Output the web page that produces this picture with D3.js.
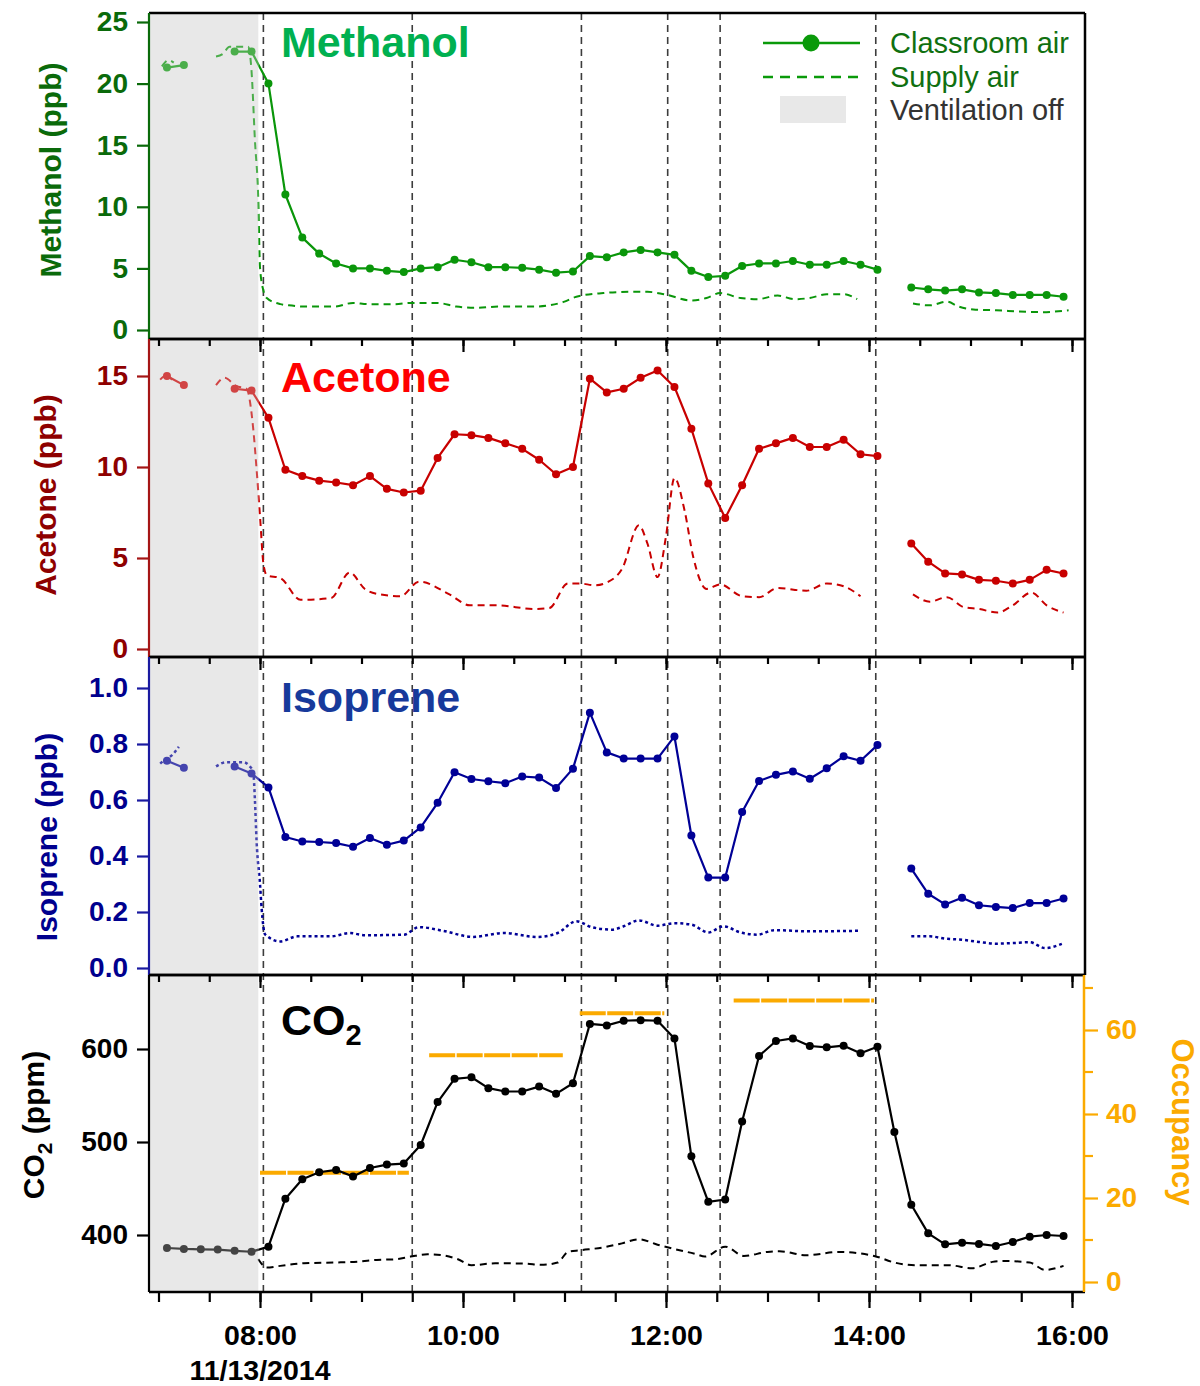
<!DOCTYPE html>
<html>
<head>
<meta charset="utf-8">
<script src="https://cdn.jsdelivr.net/npm/d3@7"></script>
<style>
  body { margin: 0; background: #fff; }
  svg text { font-family: "Liberation Sans", Arial, sans-serif; }
</style>
</head>
<body>
<svg id="chart" width="1200" height="1386"></svg>
<script>
// classroom air sampled every 10 min (null = no data)
const roomTimes = ["07:05","07:15","07:25","07:35","07:45","07:55",
  "08:05","08:15","08:25","08:35","08:45","08:55","09:05","09:15","09:25","09:35","09:45","09:55",
  "10:05","10:15","10:25","10:35","10:45","10:55","11:05","11:15","11:25","11:35","11:45","11:55",
  "12:05","12:15","12:25","12:35","12:45","12:55","13:05","13:15","13:25","13:35","13:45","13:55",
  "14:05","14:15","14:25","14:35","14:45","14:55","15:05","15:15","15:25","15:35","15:45","15:55"];

const methanolRoom = [21.3, 21.5, null, null, 22.6, 22.6,
  20.0, 11.0, 7.5, 6.2, 5.4, 5.0, 5.0, 4.8, 4.7, 5.0,
  5.1, 5.7, 5.5, 5.1, 5.1, 5.05, 4.9, 4.65, 4.75, 6.0,
  5.9, 6.3, 6.5, 6.3, 6.1, 4.8, 4.3, 4.4, 5.2, 5.4,
  5.4, 5.6, 5.3, 5.3, 5.6, 5.3, 4.9, null,
  3.45, 3.3, 3.2, 3.3, 3.05, 3.0, 2.85, 2.85, 2.85, 2.7];

const acetoneRoom = [15.0, 14.5, null, null, 14.3, 14.2,
  12.7, 9.85, 9.5, 9.25, 9.15, 9.0, 9.5, 8.8, 8.6, 8.7,
  10.5, 11.8, 11.75, 11.6, 11.3, 11.0, 10.4, 9.6, 10.0, 14.85,
  14.1, 14.3, 14.9, 15.3, 14.4, 12.1, 9.1, 7.2, 9.0, 11.0,
  11.3, 11.6, 11.1, 11.1, 11.5, 10.7, 10.6, null,
  5.8, 4.8, 4.15, 4.1, 3.8, 3.75, 3.6, 3.8, 4.35, 4.15];

const isopreneRoom = [0.74, 0.715, null, null, 0.72, 0.695,
  0.645, 0.468, 0.452, 0.45, 0.446, 0.433, 0.464, 0.44, 0.455, 0.502,
  0.59, 0.699, 0.675, 0.667, 0.66, 0.684, 0.68, 0.643, 0.712, 0.912,
  0.77, 0.748, 0.748, 0.748, 0.827, 0.473, 0.323, 0.323, 0.557, 0.668,
  0.69, 0.702, 0.676, 0.713, 0.756, 0.74, 0.796, null,
  0.355, 0.265, 0.227, 0.251, 0.224, 0.218, 0.214, 0.232, 0.232, 0.248];

const co2Room = [386, 385, 384.6, 384.3, 383, 382,
  387.5, 439, 460, 467.5, 470, 463, 472, 475.7, 476.8, 496.8,
  542.9, 567.9, 569.6, 557.9, 554.3, 554.3, 559.6, 551.8, 563.2, 627,
  625.4, 630.4, 631, 630.4, 611.4, 484.6, 435.7, 438.2, 522.1, 592.5,
  608.6, 611.4, 603.2, 601.8, 603.6, 595.4, 602.5, 510.7, 432.5, 401.8,
  390, 391.8, 390.4, 388.2, 392.5, 398.2, 400, 398.9];

// supply air [time, value], null value = gap
const methanolSupply = [["07:02",21.4],["07:06",21.9],["07:09",21.7],["07:20",null],
  ["07:34",22.2],["07:38",22.4],["07:42",23.0],["07:53",23.0],["07:55",21.0],["07:57",15.4],["07:59",10.5],
  ["08:00",5.1],["08:02",3.2],["08:04",2.6],["08:12",2.1],["08:17",2.0],["08:28",1.9],["08:44",1.9],
  ["08:55",2.2],["09:04",2.1],["09:20",2.1],["09:29",2.2],["09:45",2.2],["09:56",1.9],["10:08",1.8],
  ["10:21",1.9],["10:42",1.9],["10:51",2.0],["11:00",2.3],["11:07",2.7],["11:23",3.0],["11:39",3.1],
  ["11:49",3.1],["11:59",2.9],["12:15",2.4],["12:24",2.6],["12:32",3.0],["12:44",2.6],["12:54",2.5],
  ["13:06",2.8],["13:16",2.5],["13:25",2.6],["13:35",2.9],["13:45",2.9],["13:53",2.5],["14:10",null],
  ["14:26",2.15],["14:36",2.0],["14:46",2.3],["14:53",1.9],["15:03",1.65],["15:15",1.6],["15:29",1.5],
  ["15:42",1.45],["15:58",1.6]];

const acetoneSupply = [["07:01",14.8],["07:04",15.0],["07:08",14.8],["07:20",null],
  ["07:34",14.5],["07:39",14.9],["07:46",14.45],["07:52",14.3],["07:56",12.1],["07:58",9.85],
  ["08:00",7.3],["08:02",4.7],["08:04",4.05],["08:12",3.9],["08:24",2.7],["08:42",2.8],["08:53",4.2],
  ["09:02",3.3],["09:11",3.0],["09:23",2.9],["09:34",3.7],["09:52",3.0],["10:04",2.4],["10:20",2.4],
  ["10:42",2.2],["10:51",2.25],["11:02",3.6],["11:09",3.6],["11:18",3.5],["11:26",3.7],["11:34",4.4],
  ["11:44",6.8],["11:49",5.8],["11:55",3.95],["12:00",6.2],["12:05",9.4],["12:11",7.6],["12:16",5.1],
  ["12:24",3.3],["12:32",3.55],["12:45",2.9],["12:55",2.85],["13:06",3.35],["13:23",3.2],["13:35",3.6],
  ["13:45",3.45],["13:55",2.9],["14:10",null],
  ["14:26",3.0],["14:36",2.6],["14:46",2.85],["14:56",2.3],["15:05",2.2],["15:16",2.0],["15:25",2.4],
  ["15:36",3.1],["15:45",2.4],["15:55",2.0]];

const isopreneSupply = [["07:01",0.73],["07:04",0.745],["07:08",0.76],["07:12",0.79],["07:20",null],
  ["07:34",0.72],["07:40",0.735],["07:50",0.735],["07:54",0.72],["07:56",0.70],["07:57",0.60],
  ["07:58",0.45],["08:00",0.30],["08:01",0.21],["08:03",0.12],["08:12",0.095],["08:22",0.113],
  ["08:42",0.113],["08:53",0.125],["09:02",0.117],["09:25",0.119],["09:34",0.146],["09:48",0.133],
  ["10:06",0.111],["10:24",0.125],["10:44",0.111],["10:56",0.125],["11:07",0.167],["11:16",0.146],
  ["11:28",0.137],["11:35",0.149],["11:44",0.17],["11:55",0.151],["12:05",0.16],["12:15",0.155],
  ["12:25",0.127],["12:34",0.149],["12:44",0.127],["12:54",0.119],["13:04",0.135],["13:25",0.131],
  ["13:54",0.133],["14:10",null],
  ["14:25",0.113],["14:36",0.113],["14:45",0.105],["14:55",0.101],["15:05",0.093],["15:15",0.087],
  ["15:25",0.089],["15:35",0.092],["15:44",0.071],["15:54",0.086]];

const co2Supply = [["07:59",374],["08:04",365],["08:12",366.8],["08:26",369.6],["08:44",370.4],
  ["08:58",371.4],["09:09",373.2],["09:20",373.9],["09:29",376.8],["09:39",379.3],["09:48",378.2],
  ["09:57",373.9],["10:05",367.5],["10:19",369.6],["10:37",369.3],["10:46",367.9],["10:56",370.4],
  ["11:02",381.8],["11:09",383.6],["11:22",386.4],["11:34",391],["11:44",395.4],["11:55",389.6],
  ["12:04",385.4],["12:18",379.3],["12:23",376.8],["12:35",387.5],["12:46",377.5],["13:00",381.8],
  ["13:07",382.5],["13:23",378.2],["13:42",381.8],["14:03",377.5],["14:15",370.4],["14:27",367.5],
  ["14:47",367.5],["15:01",364.3],["15:13",371.1],["15:20",372.1],["15:35",370.4],["15:44",362.5],
  ["15:55",366.8]];

// occupancy periods [start, end, persons]
const occupancy = [["08:00","09:28",26],["09:40","10:59",54],["11:09","11:59",64],["12:40","14:03",67]];

const eventTimes = ["08:02","09:30","11:10","12:01","12:32","14:04"];
const ventOffEnd = "07:59";

const methanolTicks = [0, 5, 10, 15, 20, 25];
const acetoneTicks = [0, 5, 10, 15];
const isopreneTicks = [0, 0.2, 0.4, 0.6, 0.8, 1.0];
const co2Ticks = [400, 500, 600];
const occTicks = [0, 20, 40, 60];
const occMinorTicks = [10, 30, 50, 70];

// ---------------------------------------------------------------
const parseT = d3.timeParse("%Y-%m-%d %H:%M");
const T = s => parseT("2014-11-13 " + s);

const svg = d3.select("#chart");
const frameL = 149, frameR = 1085;
const x = d3.scaleTime().domain([T("07:00"), T("16:00")]).range([158.5, 1072]);
const xVent = x(T(ventOffEnd));

const defs = svg.append("defs");
defs.append("clipPath").attr("id", "clip-early")
  .append("rect").attr("x", 0).attr("y", 0).attr("width", xVent).attr("height", 1386);
defs.append("clipPath").attr("id", "clip-late")
  .append("rect").attr("x", xVent).attr("y", 0).attr("width", 1200 - xVent).attr("height", 1386);

const panels = [
  { top: 13, bottom: 339, y: d3.scaleLinear().domain([0, 25]).range([330, 22]),
    ticks: methanolTicks, fmt: d3.format("d"), axisColor: "#0A6A0A", labelColor: "#0A6A0A",
    color: "#0A960A", room: methanolRoom, supply: methanolSupply, dash: "7,5", sw: 2,
    title: "Methanol", titleColor: "#00B050", titleY: 57,
    label: "Methanol (ppb)", labelX: 61, labelY: 170 },
  { top: 339, bottom: 657, y: d3.scaleLinear().domain([0, 15]).range([649, 376]),
    ticks: acetoneTicks, fmt: d3.format("d"), axisColor: "#A51515", labelColor: "#8E0000",
    color: "#C80000", room: acetoneRoom, supply: acetoneSupply, dash: "7,5", sw: 2,
    title: "Acetone", titleColor: "#FF0000", titleY: 392,
    label: "Acetone (ppb)", labelX: 56, labelY: 495 },
  { top: 657, bottom: 975, y: d3.scaleLinear().domain([0, 1]).range([968, 688]),
    ticks: isopreneTicks, fmt: d3.format(".1f"), axisColor: "#1A1AA0", labelColor: "#00008E",
    color: "#000096", room: isopreneRoom, supply: isopreneSupply, dash: "3,3", sw: 2.5,
    title: "Isoprene", titleColor: "#173A9B", titleY: 712,
    label: "Isoprene (ppb)", labelX: 57, labelY: 837 },
  { top: 975, bottom: 1292, y: d3.scaleLinear().domain([400, 600]).range([1235, 1049]),
    ticks: co2Ticks, fmt: d3.format("d"), axisColor: "#000", labelColor: "#000",
    color: "#000", room: co2Room, supply: co2Supply, dash: "7,5", sw: 2,
    title: "CO", titleColor: "#000", titleY: 1035,
    label: "CO", labelX: 44, labelY: 1125 }
];

// gray "ventilation off" shading
panels.forEach(p => {
  svg.append("rect")
    .attr("x", frameL).attr("y", p.top)
    .attr("width", xVent - frameL).attr("height", p.bottom - p.top)
    .attr("fill", "#E8E8E8");
});

// event markers (dashed verticals through all panels)
svg.append("g").selectAll("line")
  .data(eventTimes)
  .join("line")
  .attr("x1", d => x(T(d))).attr("x2", d => x(T(d)))
  .attr("y1", panels[0].top).attr("y2", panels[3].bottom)
  .attr("stroke", "#3c3c3c").attr("stroke-width", 1.6)
  .attr("stroke-dasharray", "7,5");

// occupancy (right axis of CO2 panel)
const yOcc = d3.scaleLinear().domain([0, 60]).range([1282, 1030]);
svg.append("g").selectAll("line")
  .data(occupancy)
  .join("line")
  .attr("x1", d => x(T(d[0]))).attr("x2", d => x(T(d[1])))
  .attr("y1", d => yOcc(d[2])).attr("y2", d => yOcc(d[2]))
  .attr("stroke", "#FBAA00").attr("stroke-width", 4)
  .attr("stroke-dasharray", "26,1.5");

// data series
panels.forEach(p => {
  const roomData = roomTimes.map((t, i) => ({ t: T(t), v: p.room[i] }));
  const supplyData = p.supply.map(d => ({ t: T(d[0]), v: d[1] }));

  const supplyLine = d3.line()
    .defined(d => d.v != null)
    .x(d => x(d.t)).y(d => p.y(d.v))
    .curve(d3.curveMonotoneX);
  const roomLine = d3.line()
    .defined(d => d.v != null)
    .x(d => x(d.t)).y(d => p.y(d.v));

  [["clip-early", 0.7], ["clip-late", 1]].forEach(([clip, op]) => {
    const g = svg.append("g").attr("clip-path", `url(#${clip})`).attr("opacity", op);
    g.append("path")
      .attr("d", supplyLine(supplyData))
      .attr("fill", "none").attr("stroke", p.color)
      .attr("stroke-width", p.sw).attr("stroke-dasharray", p.dash);
    g.append("path")
      .attr("d", roomLine(roomData))
      .attr("fill", "none").attr("stroke", p.color)
      .attr("stroke-width", 2.2).attr("stroke-linejoin", "round");
    g.selectAll("circle")
      .data(roomData.filter(d => d.v != null))
      .join("circle")
      .attr("cx", d => x(d.t)).attr("cy", d => p.y(d.v))
      .attr("r", 4).attr("fill", p.color);
  });
});

// frames, axes
const tickFont = g => g.selectAll("text")
  .attr("font-size", 28).attr("font-weight", "bold");

panels.forEach((p, k) => {
  // black frame: top, bottom, right (right of CO2 panel is the occupancy axis)
  const fr = svg.append("g").attr("stroke", "#000").attr("stroke-width", 2.5);
  fr.append("line").attr("x1", frameL).attr("x2", frameR).attr("y1", p.top).attr("y2", p.top);
  fr.append("line").attr("x1", frameL).attr("x2", frameR).attr("y1", p.bottom).attr("y2", p.bottom);
  if (k < 3) fr.append("line").attr("x1", frameR).attr("x2", frameR).attr("y1", p.top).attr("y2", p.bottom);

  // left axis
  const ax = svg.append("g").attr("transform", `translate(${frameL},0)`)
    .call(d3.axisLeft(p.y).tickValues(p.ticks).tickFormat(p.fmt).tickSize(12).tickPadding(9))
    .call(tickFont);
  ax.select(".domain").remove();
  ax.selectAll(".tick line").attr("stroke", p.axisColor).attr("stroke-width", 2.2);
  ax.selectAll("text").attr("fill", p.labelColor);
  ax.append("line").attr("y1", p.top).attr("y2", p.bottom)
    .attr("stroke", p.axisColor).attr("stroke-width", 2.2);

  // inward time ticks on the top edge of lower panels
  if (k > 0) {
    [[d3.timeMinute.every(30), 7], [d3.timeHour.every(2), 13]].forEach(([iv, size]) => {
      const tg = svg.append("g").attr("transform", `translate(0,${p.top})`)
        .call(d3.axisBottom(x).ticks(iv).tickSize(size).tickFormat(""));
      tg.select(".domain").remove();
      tg.selectAll(".tick line").attr("stroke", "#000").attr("stroke-width", 2.2);
    });
  }
});

// bottom time axis
const minorAx = svg.append("g").attr("transform", `translate(0,${panels[3].bottom})`)
  .call(d3.axisBottom(x).ticks(d3.timeMinute.every(30)).tickSize(10).tickFormat(""));
minorAx.select(".domain").remove();
minorAx.selectAll(".tick line").attr("stroke", "#000").attr("stroke-width", 2.2);

const majorAx = svg.append("g").attr("transform", `translate(0,${panels[3].bottom})`)
  .call(d3.axisBottom(x).ticks(d3.timeHour.every(2)).tickSize(16).tickFormat(d3.timeFormat("%H:%M")))
  .call(tickFont);
majorAx.select(".domain").remove();
majorAx.selectAll(".tick line").attr("stroke", "#000").attr("stroke-width", 2.2);
majorAx.selectAll("text").attr("y", 53).attr("dy", 0).attr("fill", "#000").attr("font-size", 28.5);

svg.append("text")
  .attr("x", x(T("08:00"))).attr("y", 1380)
  .attr("text-anchor", "middle").attr("font-size", 28.5).attr("font-weight", "bold")
  .text("11/13/2014");

// occupancy axis (right)
const occColor = "#FBAA00";
const occAx = svg.append("g").attr("transform", `translate(${frameR - 1},0)`)
  .call(d3.axisRight(yOcc).tickValues(occTicks).tickSize(14).tickPadding(8))
  .call(tickFont);
occAx.select(".domain").remove();
occAx.selectAll(".tick line").attr("stroke", occColor).attr("stroke-width", 2.2);
occAx.selectAll("text").attr("fill", occColor);
occAx.selectAll(".minor")
  .data(occMinorTicks)
  .join("line")
  .attr("class", "minor")
  .attr("x1", 0).attr("x2", 9)
  .attr("y1", d => yOcc(d)).attr("y2", d => yOcc(d))
  .attr("stroke", occColor).attr("stroke-width", 2.2);
occAx.append("line").attr("y1", panels[3].top).attr("y2", panels[3].bottom)
  .attr("stroke", occColor).attr("stroke-width", 2.5);

svg.append("text")
  .attr("transform", `translate(1172,1122) rotate(90)`)
  .attr("text-anchor", "middle").attr("font-size", 31).attr("font-weight", "bold")
  .attr("fill", occColor).text("Occupancy");

// panel titles and y-axis labels
panels.forEach((p, k) => {
  const t = svg.append("text")
    .attr("x", 281).attr("y", p.titleY)
    .attr("font-family", "Lato, 'Open Sans', sans-serif")
    .attr("font-size", 43).attr("font-weight", "bold")
    .attr("fill", p.titleColor).text(p.title);

  const lab = svg.append("text")
    .attr("transform", `translate(${p.labelX},${p.labelY}) rotate(-90)`)
    .attr("text-anchor", "middle").attr("font-size", 30).attr("font-weight", "bold")
    .attr("fill", p.labelColor).text(p.label);

  if (k === 3) {
    t.append("tspan").attr("font-size", 29).attr("dy", 10).text("2");
    lab.append("tspan").attr("font-size", 21).attr("dy", 8).text("2");
    lab.append("tspan").attr("dy", -8).text(" (ppm)");
  }
});

// legend
const leg = svg.append("g").attr("font-size", 29);
leg.append("line").attr("x1", 763).attr("x2", 860).attr("y1", 43).attr("y2", 43)
  .attr("stroke", "#0A9A0A").attr("stroke-width", 2.5);
leg.append("circle").attr("cx", 811).attr("cy", 43).attr("r", 8.5).attr("fill", "#0A9A0A");
leg.append("line").attr("x1", 763).attr("x2", 862).attr("y1", 77).attr("y2", 77)
  .attr("stroke", "#0A9A0A").attr("stroke-width", 2.5).attr("stroke-dasharray", "10,7");
leg.append("rect").attr("x", 780).attr("y", 96).attr("width", 66).attr("height", 27)
  .attr("fill", "#E8E8E8");
leg.append("text").attr("x", 890).attr("y", 53).attr("fill", "#107010").text("Classroom air");
leg.append("text").attr("x", 890).attr("y", 87).attr("fill", "#107010").text("Supply air");
leg.append("text").attr("x", 890).attr("y", 120).attr("fill", "#333").text("Ventilation off");
</script>
</body>
</html>
